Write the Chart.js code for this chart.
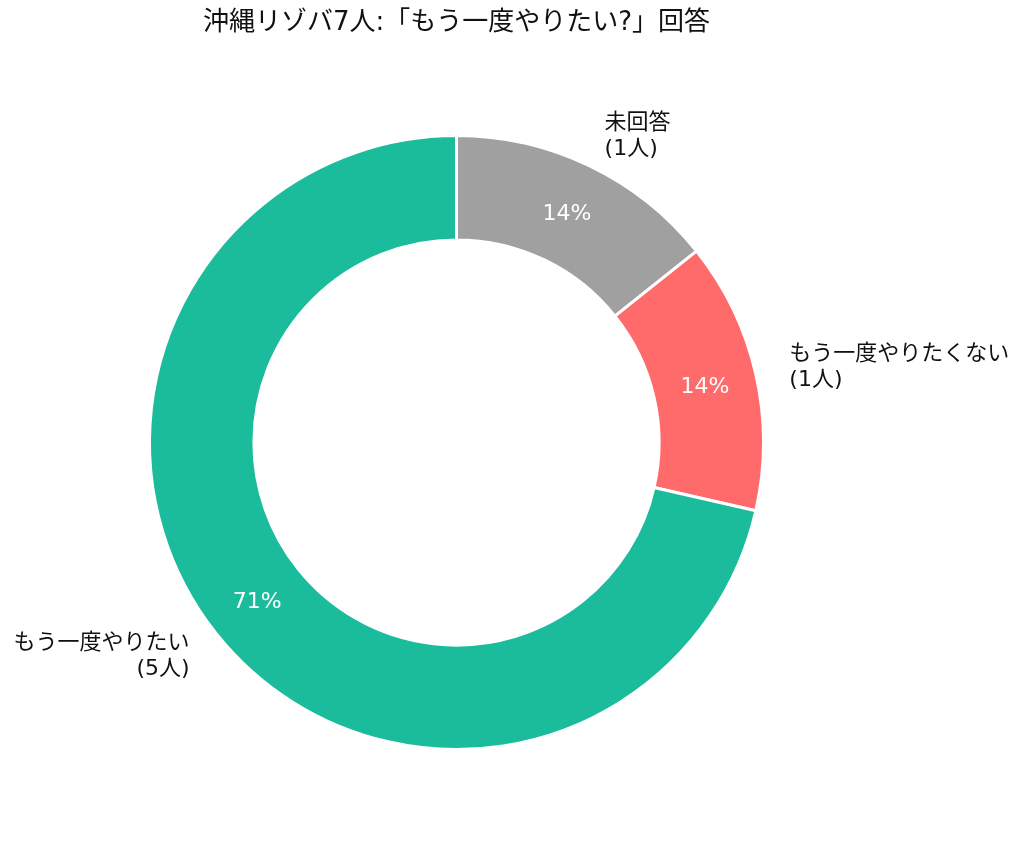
<!DOCTYPE html>
<html>
<head>
<meta charset="utf-8">
<script src="https://cdn.jsdelivr.net/npm/chart.js@4.4.0/dist/chart.umd.min.js"></script>
<style>
  html, body { margin: 0; padding: 0; background: #ffffff; }
  #wrap { width: 1024px; height: 843px; position: relative; }
</style>
</head>
<body>
<div id="wrap"><canvas id="donut"></canvas></div>
<script>
// drawn clockwise from 12 o'clock, so the reference order is reversed
const TITLE = "沖縄リゾバ7人:「もう一度やりたい?」回答";
const categories = ["未回答", "もう一度やりたくない", "もう一度やりたい"];
const counts = [1, 1, 5];
const sliceColors = ["#a0a0a0", "#ff6b6b", "#1abc9c"];

const FONT = '"DejaVu Sans", "Noto Sans CJK JP", sans-serif';

// outside labels + percentages, placed from each arc's geometry
const donutLabels = {
    id: "donutLabels",
    afterDatasetsDraw(chart) {
        const ctx = chart.ctx;
        const meta = chart.getDatasetMeta(0);
        const total = counts.reduce((a, b) => a + b, 0);

        ctx.save();
        meta.data.forEach((arc, i) => {
            const mid = (arc.startAngle + arc.endAngle) / 2;
            const cos = Math.cos(mid), sin = Math.sin(mid);

            // percentage inside the ring
            const rMid = (arc.innerRadius + arc.outerRadius) / 2;
            ctx.fillStyle = "#ffffff";
            ctx.font = "22px " + FONT;
            ctx.textAlign = "center";
            ctx.textBaseline = "middle";
            const pct = Math.round(counts[i] / total * 100) + "%";
            ctx.fillText(pct, arc.x + rMid * cos, arc.y + 1 + rMid * sin);

            // category label outside
            const rOut = arc.outerRadius * 1.112;
            const lx = arc.x + rOut * cos;
            const ly = arc.y + rOut * sin;
            ctx.fillStyle = "#111111";
            ctx.font = "22px " + FONT;
            ctx.textAlign = cos >= 0 ? "left" : "right";
            const lines = [categories[i], "(" + counts[i] + "人)"];
            const lh = 26;
            lines.forEach((t, k) => {
                ctx.fillText(t, lx, ly + 1 + (k - (lines.length - 1) / 2) * lh);
            });
        });

        // title
        ctx.fillStyle = "#111111";
        ctx.font = "26px " + FONT;
        ctx.textAlign = "center";
        ctx.fillText(TITLE, meta.data[0].x, 23);
        ctx.restore();
    }
};

const canvas = document.getElementById("donut");
new Chart(canvas.getContext("2d"), {
    type: "doughnut",
    data: {
        labels: categories,
        datasets: [{
            data: counts,
            backgroundColor: sliceColors,
            borderColor: "#ffffff",
            borderWidth: 3,
            hoverOffset: 0
        }]
    },
    options: {
        responsive: true,
        maintainAspectRatio: false,
        animation: false,
        cutout: "66%",
        rotation: 0,
        layout: {
            padding: { left: 148, top: 134, right: 259, bottom: 92 }
        },
        plugins: {
            legend: { display: false },
            tooltip: { enabled: false },
            title: { display: false }
        }
    },
    plugins: [donutLabels]
});
</script>
</body>
</html>
